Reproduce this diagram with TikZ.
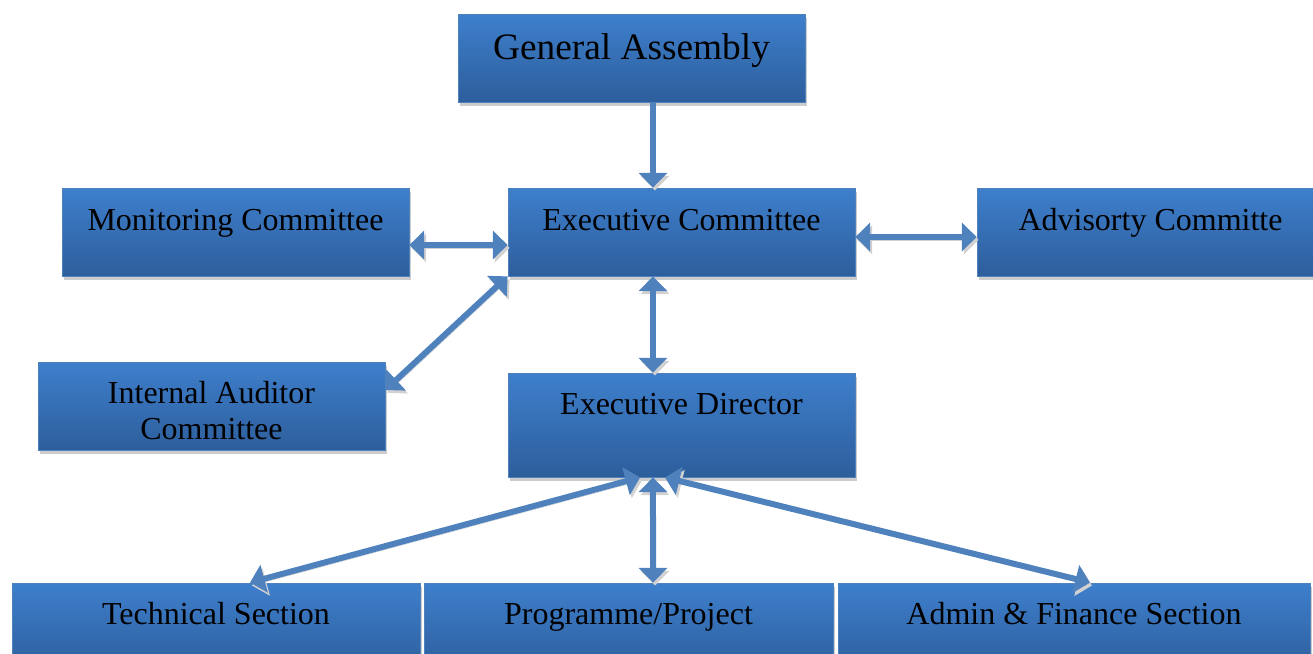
\documentclass[tikz,border=0pt]{standalone}
\usepackage{fontspec}
\setmainfont{Liberation Serif}
\usetikzlibrary{arrows.meta,shadows}
\definecolor{boxtop}{RGB}{62,127,204}
\definecolor{boxbot}{RGB}{45,94,156}
\definecolor{linkblue}{RGB}{79,129,189}
\tikzset{
    box/.style={rectangle, draw=linkblue, line width=0.6pt, top color=boxtop, bottom color=boxbot,
        drop shadow={shadow xshift=1.2pt, shadow yshift=-3pt, fill=black!20, opacity=1},
        inner sep=0pt, minimum width=260.25pt, minimum height=66pt},
    lbl/.style={anchor=base, inner sep=0pt, font=\fontsize{24}{27}\selectfont, align=center},
    link/.style={draw=linkblue, line width=4.5pt,
        preaction={draw=black!18, transform canvas={shift={(1.5pt,-2.2pt)}}}},
    both/.style={link, {Triangle[length=11pt,width=21pt]}-{Triangle[length=11pt,width=21pt]}},
    one/.style={link, -{Triangle[length=11pt,width=21pt]}}
}
\begin{document}
\begin{tikzpicture}[x=0.75pt, y=-0.75pt]
    \clip (0,0) rectangle (1313,653);
    \useasboundingbox (0,0) rectangle (1313,653);

    % boxes
    \node[box] (GA) at (631.5, 58) {};
    \node[box] (MC) at (235.5, 232) {};
    \node[box] (EC) at (681.5, 232) {};
    \node[box] (AC) at (1150.5, 232) {};
    \node[box] (IAC) at (211.5, 406) {};
    \node[box, minimum height=78pt] (ED) at (681.5, 425) {};
    \node[box, minimum width=306pt] (TS) at (216, 627) {};
    \node[box, minimum width=306.75pt] (PP) at (628.5, 627) {};
    \node[box, minimum width=354pt] (AF) at (1074, 627) {};

    % texts
    \node[lbl, font=\fontsize{28}{32}\selectfont] (GAt) at ([yshift=-34.5pt]GA.north) {General Assembly};
    \node[lbl] (MCt) at ([yshift=-32pt]MC.north) {Monitoring Committee};
    \node[lbl] (ECt) at ([yshift=-32pt]EC.north) {Executive Committee};
    \node[lbl] (ACt) at ([yshift=-32pt]AC.north) {Advisorty Committe};
    \node[lbl] (IACt) at ([yshift=-58.5pt]IAC.north) {Internal Auditor\\Committee};
    \node[lbl] (EDt) at ([yshift=-31.5pt]ED.north) {Executive Director};
    \node[lbl] (TSt) at ([yshift=-31.5pt]TS.north) {Technical Section};
    \node[lbl] (PPt) at ([yshift=-31.5pt]PP.north) {Programme/Project};
    \node[lbl] (AFt) at ([yshift=-31.5pt]AF.north) {Admin \& Finance Section};

    % arrows
    \draw[one] ([xshift=16.1pt]GA.south) -- ([xshift=-21.4pt]EC.north);
    \draw[both] ([yshift=-9.75pt]MC.east) -- ([yshift=-9.75pt]EC.west);
    \draw[both] ([yshift=-3.75pt]EC.east) -- ([yshift=-3.75pt]AC.west);
    \draw[both] ([yshift=12pt]IAC.east) -- (EC.south west);
    \draw[both] ([xshift=-21.4pt]EC.south) -- ([xshift=-21.4pt]ED.north);
    \draw[both] ([xshift=-31pt]ED.south) -- ([xshift=25.5pt]TS.north);
    \draw[both] ([xshift=-21.4pt]ED.south) -- ([xshift=18.4pt]PP.north);
    \draw[both] ([xshift=-12.4pt]ED.south) -- ([xshift=12pt]AF.north);
\end{tikzpicture}
\end{document}
